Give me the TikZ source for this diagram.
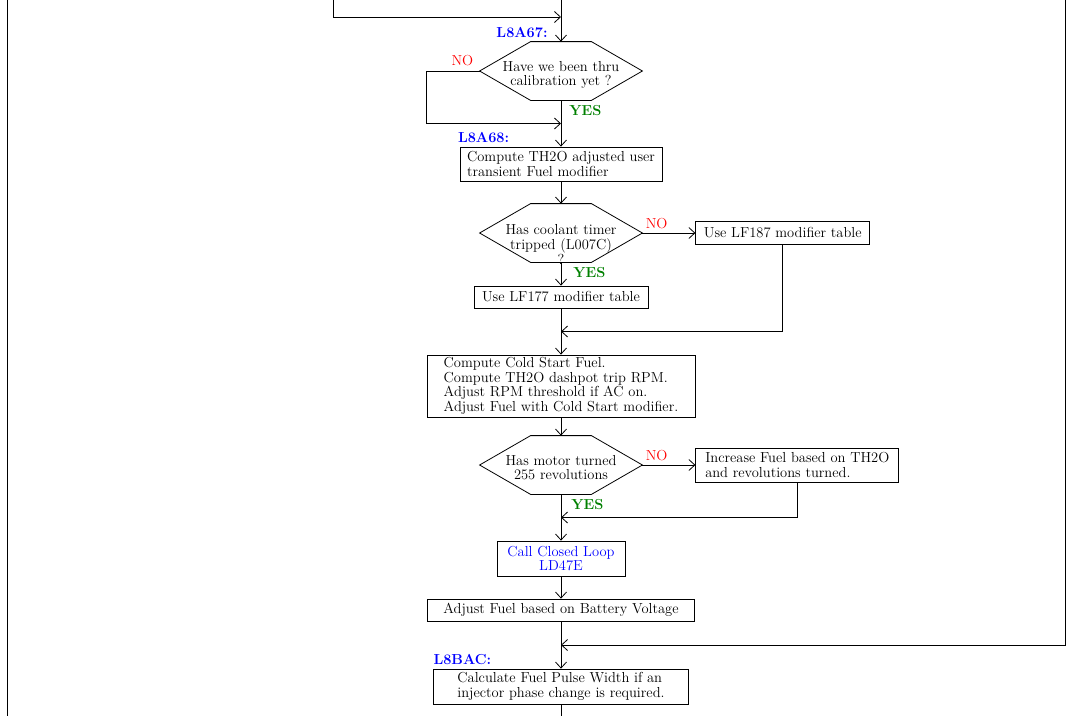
\documentclass[tikz,border=0pt]{standalone}
\usepackage{xcolor}
\usetikzlibrary{arrows.meta,positioning,calc}
\definecolor{lblblue}{RGB}{0,0,255}
\definecolor{yesgreen}{RGB}{0,128,0}
\definecolor{nored}{RGB}{255,0,0}
\newcommand{\dectext}[2][-8pt]{\makebox[0pt]{\smash{\raisebox{#1}{\begin{tabular}{@{}c@{}}#2\end{tabular}}}}}

\begin{document}
\begin{tikzpicture}[x=1pt, y=1pt, line width=0.8pt,
>={Straight Barb[length=6pt,width=11pt]},
procnode/.style={rectangle, draw, inner sep=2pt, align=left, font=\fontsize{14.5}{14.5}\selectfont},
decnode/.style={rectangle, inner sep=0pt, minimum width=162pt, minimum height=58pt, font=\fontsize{14.5}{14}\selectfont},
labelnode/.style={inner sep=1pt, text=lblblue, font=\fontsize{14.5}{15}\selectfont\bfseries},
nonode/.style={inner sep=1pt, text=nored, font=\fontsize{14.5}{15}\selectfont},
yesnode/.style={inner sep=1pt, text=yesgreen, font=\fontsize{14.5}{15}\selectfont\bfseries}
]
\useasboundingbox (0,0) rectangle (1082,-716);
% Fuel path
%Nodes
\node[decnode]  (calib)  at (561,-71)  {\dectext{Have we been thru\\calibration yet ?}};
\node[procnode, minimum width=202pt, minimum height=34pt] (th2omod) [below=46.2pt of calib] {Compute TH2O adjusted user\\transient Fuel modifier};
\node[decnode]  (coolant)  [below=22.2pt of th2omod] {\dectext[-17pt]{Has coolant timer\\tripped (L007C)\\?}};
\node[procnode, minimum width=174pt, minimum height=23pt] (lf187) [right=53pt of coolant] {Use LF187 modifier table};
\node[procnode, minimum width=174pt, minimum height=22pt] (lf177) [below=23.2pt of coolant] {Use LF177 modifier table};
\node[procnode, minimum width=268pt, minimum height=62pt] (coldstart) [below=46.2pt of lf177] {Compute Cold Start Fuel.\\Compute TH2O dashpot trip RPM.\\Adjust RPM threshold if AC on.\\Adjust Fuel with Cold Start modifier.};
\node[decnode]  (motor)  [below=18.2pt of coldstart] {\dectext{Has motor turned\\255 revolutions}};
\node[procnode, minimum width=203pt, minimum height=34pt] (incfuel) [right=53pt of motor] {Increase Fuel based on TH2O\\and revolutions turned.};
\node[procnode, align=center, text=lblblue, minimum width=128pt, minimum height=35pt] (closedloop) [below=46.2pt of motor] {Call Closed Loop\\LD47E};
\node[procnode, align=center, minimum width=267pt, minimum height=22pt] (battery) [below=22.2pt of closedloop] {Adjust Fuel based on Battery Voltage};
\node[procnode, minimum width=255pt, minimum height=35pt] (pulsewidth) [below=47.2pt of battery] {Calculate Fuel Pulse Width if an\\injector phase change is required.};
%Hexagons
\foreach \d in {calib,coolant,motor}
  \draw (\d.west) -- ([xshift=51pt]\d.north west) -- ([xshift=-51pt]\d.north east) -- (\d.east)
        -- ([xshift=-51pt]\d.south east) -- ([xshift=51pt]\d.south west) -- cycle;
%Labels
\node[labelnode] (l8a67) [above left=3pt and 12pt of calib.north] {L8A67:};
\node[nonode]    (no1)   [above left=4pt and 5pt of calib.west] {NO};
\node[yesnode]   (yes1)  [below right=4pt and 7pt of calib.south] {YES};
\node[labelnode] (l8a68) [above right=3pt and -3pt of th2omod.north west] {L8A68:};
\node[nonode]    (no2)   [above right=3pt and 2pt of coolant.east] {NO};
\node[yesnode]   (yes2)  [below right=4pt and 11pt of coolant.south] {YES};
\node[nonode]    (no3)   [above right=3pt and 2pt of motor.east] {NO};
\node[yesnode]   (yes3)  [below right=4pt and 9pt of motor.south] {YES};
\node[labelnode] (l8bac) [above right=3pt and -1pt of pulsewidth.north west] {L8BAC:};
%Joins
\coordinate (toptrunk) at (561,0);
\coordinate (topleft)  at (333,0);
\coordinate (join0)    at (561,-17);
\coordinate (lefttop)  at (7,0);
\coordinate (leftbot)  at (7,-716);
\coordinate (rightedge) at (1065,0);
\coordinate (bottrunk) at (561,-716);
\coordinate (join1) at ($(calib.south)!0.5!(th2omod.north)$);
\coordinate (join2) at ($(lf177.south)!0.5!(coldstart.north)$);
\coordinate (join3) at ($(motor.south)!0.5!(closedloop.north)$);
\coordinate (join4) at ($(battery.south)!0.5!(pulsewidth.north)$);
%Lines
\draw (lefttop) -- (leftbot);
\draw[->] (toptrunk) -- (calib);
\draw[->] (topleft) |- (join0);
\draw[->] (calib.west) -- ++(-53,0) |- (join1);
\draw[->] (calib) -- (th2omod);
\draw[->] (th2omod) -- (coolant);
\draw[->] (coolant) -- (lf187);
\draw[->] (coolant) -- (lf177);
\draw[->] (lf187.south) |- (join2);
\draw[->] (lf177) -- (coldstart);
\draw[->] (coldstart) -- (motor);
\draw[->] (motor) -- (incfuel);
\draw[->] (motor) -- (closedloop);
\draw[->] (incfuel.south) |- (join3);
\draw[->] (closedloop) -- (battery);
\draw[->] (battery) -- (pulsewidth);
\draw[->] (rightedge) |- (join4);
\draw (pulsewidth.south) -- (bottrunk);

\end{tikzpicture}
\end{document}
